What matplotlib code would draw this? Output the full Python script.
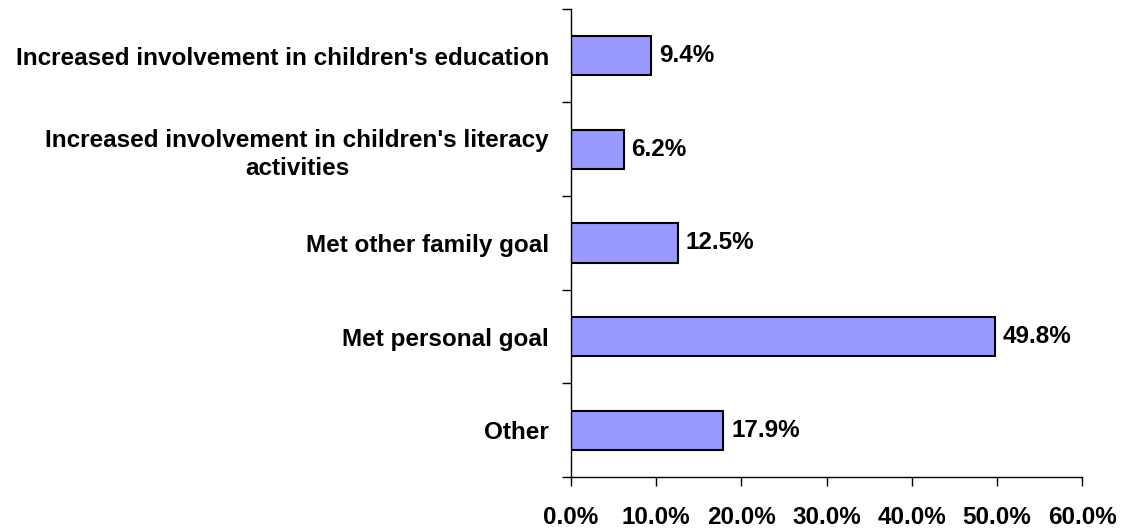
import matplotlib
matplotlib.use('Agg')
import matplotlib.pyplot as plt
from matplotlib.ticker import FuncFormatter

categories = ["Increased involvement in children's education",
              "Increased involvement in children's literacy\nactivities",
              "Met other family goal",
              "Met personal goal",
              "Other"]
values = [9.4, 6.2, 12.5, 49.8, 17.9]
xticks = [0, 10, 20, 30, 40, 50, 60]

plt.rcParams['font.family'] = ['Liberation Sans', 'DejaVu Sans']
plt.rcParams['font.weight'] = 'bold'
fs = 17.5

fig = plt.figure(figsize=(11.25, 5.29), dpi=100)
ax = fig.add_axes([0.5076, 0.0983, 0.4542, 0.885])

pos = list(range(len(categories)))
ax.barh(pos, values, height=0.42, color='#9999FF', edgecolor='black', linewidth=1.5)
for p, v in zip(pos, values):
    ax.text(v + 0.9, p, '%.1f%%' % v, va='center', ha='left', fontsize=fs, fontweight='bold')

ax.set_ylim(len(categories) - 0.5, -0.5)
ax.set_xlim(0, 60)
ax.set_xticks(xticks)
ax.xaxis.set_major_formatter(FuncFormatter(lambda x, _: '%.1f%%' % x))

# category ticks sit between the bars
ax.set_yticks([p - 0.5 for p in pos] + [len(categories) - 0.5])
ax.set_yticklabels([])
ax.set_yticks(pos, minor=True)
ax.set_yticklabels(categories, minor=True, fontsize=fs, fontweight='bold',
                   ha='right', multialignment='center', linespacing=1.3)
ax.tick_params(axis='y', which='minor', length=0, pad=22 * 72 / 100)
ax.tick_params(axis='y', which='major', length=9 * 72 / 100, width=1, direction='out')
ax.tick_params(axis='x', length=9 * 72 / 100, width=1, direction='out', labelsize=fs,
                pad=20 * 72 / 100)
for lab in ax.get_xticklabels():
    lab.set_fontweight('bold')

ax.spines['top'].set_visible(False)
ax.spines['right'].set_visible(False)
for s in ('left', 'bottom'):
    ax.spines[s].set_linewidth(1)

fig.savefig('out.png', dpi=100)
